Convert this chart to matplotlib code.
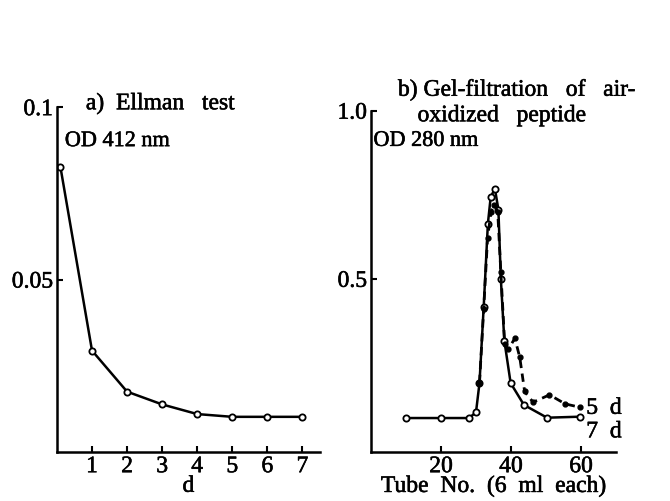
import numpy as np
import matplotlib.pyplot as plt
import matplotlib.patheffects as pe

plt.rcParams['font.family'] = ['Liberation Serif', 'DejaVu Serif']
heavy = [pe.withStroke(linewidth=0.4, foreground='k')]

# a) Ellman test
days = [0.1, 1, 2, 3, 4, 5, 6, 7]
od412 = [0.0826, 0.0294, 0.0175, 0.0138, 0.0110, 0.0102, 0.0102, 0.0102]

# b) gel filtration, 7 d (solid) and 5 d (dashed)
tube7 = [10, 20, 28, 30, 31, 32.2, 33.4, 34.2, 35.4, 36.4, 37.1, 38.1, 39.9, 43.7, 50.3, 59.7]
od7 = [0.086, 0.086, 0.086, 0.103, 0.19, 0.416, 0.664, 0.743, 0.768, 0.706, 0.5, 0.316, 0.19, 0.125, 0.087, 0.09]
tube5 = [31, 32.2, 33.3, 34.3, 35.2, 36.2, 37.1, 38.2, 39.2, 41.1, 42.5, 43.9, 46.3, 51, 55.5, 59.7]
od5 = [0.19, 0.41, 0.62, 0.70, 0.72, 0.70, 0.52, 0.307, 0.29, 0.323, 0.267, 0.165, 0.133, 0.155, 0.128, 0.118]

fig = plt.figure(figsize=(6.7, 5.02), dpi=100)

def style(ax):
    for s in ['top', 'right']:
        ax.spines[s].set_visible(False)
    for s in ['left', 'bottom']:
        ax.spines[s].set_linewidth(1.8)
    ax.tick_params(direction='in', length=4, width=1.5, labelsize=17, pad=3)
    for lab in ax.get_xticklabels() + ax.get_yticklabels():
        lab.set_path_effects(heavy)

ax1 = fig.add_axes([0.085, 0.0976, 0.3925, 0.687])
ax1.plot(days, od412, color='k', lw=1.8, marker='o', ms=4.5, mfc='white', mec='k', mew=1.3)
ax1.set_xlim(0, 7.5)
ax1.set_ylim(0, 0.1)
ax1.set_xticks(range(1, 8))
ax1.set_yticks([0.05, 0.1])
ax1.set_yticklabels(['0.05', '0.1'])
style(ax1)
ax1.set_xlabel('d', fontsize=17, labelpad=-1, path_effects=heavy)
ax1.text(0.11, 1.01, 'a)  Ellman   test', transform=ax1.transAxes, fontsize=17,
         va='center', ha='left', path_effects=heavy)
ax1.text(0.03, 0.9, 'OD 412 nm', transform=ax1.transAxes, fontsize=16,
         va='center', ha='left', path_effects=heavy)

ax2 = fig.add_axes([0.5537, 0.0976, 0.3657, 0.68])
ax2.plot(tube7, od7, color='k', lw=1.8, marker='o', ms=4.5, mfc='white', mec='k', mew=1.3)
ax2.plot(tube5, od5, color='k', lw=2.0, ls=(0, (3, 2)), marker='o', ms=3.5, mfc='k', mec='k')
ax2.set_xlim(0, 70)
ax2.set_ylim(-0.015, 1.0)
ax2.set_xticks([20, 40, 60])
ax2.set_yticks([0.5, 1.0])
ax2.set_yticklabels(['0.5', '1.0'])
style(ax2)
ax2.set_xlabel('Tube  No.  (6  ml  each)', fontsize=17, labelpad=-1, path_effects=heavy)
ax2.text(0.11, 1.06, 'b) Gel-filtration   of   air-', transform=ax2.transAxes, fontsize=17,
         va='center', ha='left', path_effects=heavy)
ax2.text(0.19, 0.985, 'oxidized   peptide', transform=ax2.transAxes, fontsize=17,
         va='center', ha='left', path_effects=heavy)
ax2.text(0.01, 0.91, 'OD 280 nm', transform=ax2.transAxes, fontsize=16,
         va='center', ha='left', path_effects=heavy)
ax2.text(61.5, 0.115, '5  d', fontsize=17, va='center', ha='left', path_effects=heavy)
ax2.text(61.5, 0.045, '7  d', fontsize=17, va='center', ha='left', path_effects=heavy)

fig.savefig('out.png', dpi=100)
